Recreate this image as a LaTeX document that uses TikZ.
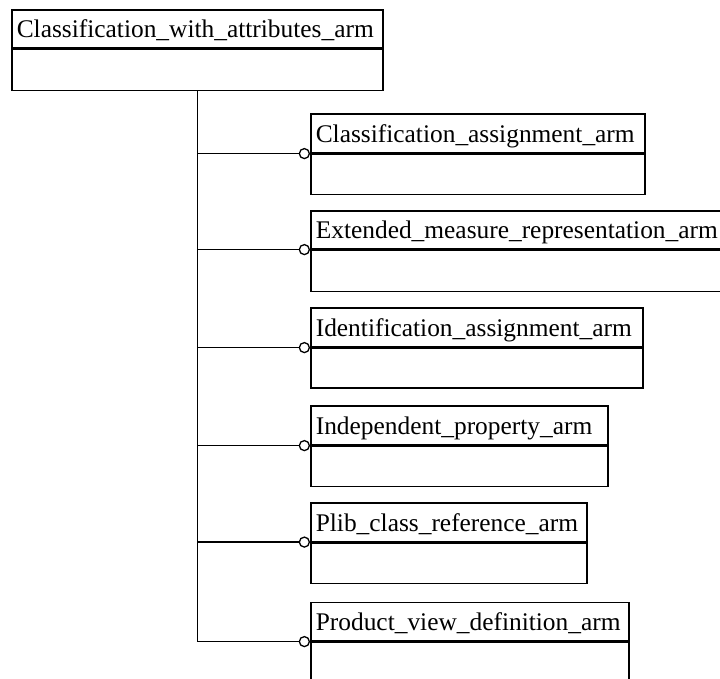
\documentclass[tikz,border=0pt]{standalone}
\usepackage{fontspec}
\setmainfont{Liberation Serif}
\begin{document}
\begin{tikzpicture}[x=1pt,y=-1pt,
  line width=1.6pt,
  hdr/.style={draw, anchor=north west, inner xsep=5pt, inner ysep=0pt,
    align=left, text height=20pt, text depth=2pt,
    font=\fontsize{25.4}{28}\selectfont},
  bodybox/.style={draw, anchor=north west, inner sep=0pt},
  lollipop/.style={circle, draw, fill=white, minimum size=10pt, inner sep=0pt, anchor=east, line width=1.3pt}]
\useasboundingbox (0,0) rectangle (720,679);
\clip (0,0) rectangle (720,679);
% top class
\node[hdr, text width=361pt, minimum height=38pt] (top) at (11,9) {Classification\_with\_attributes\_arm};
\node[bodybox, minimum width=371pt, minimum height=41pt] (topb) at (top.south west) {};
% children
\node[hdr, text width=324pt, minimum height=39pt] (h1) at (310,113) {Classification\_assignment\_arm};
\node[bodybox, minimum width=334pt, minimum height=40pt] (b1) at (h1.south west) {};
\node[hdr, text width=410pt, minimum height=38pt] (h2) at (310,210) {Extended\_measure\_representation\_arm};
\node[bodybox, minimum width=420pt, minimum height=41pt] (b2) at (h2.south west) {};
\node[hdr, text width=322pt, minimum height=39pt] (h3) at (310,307) {Identification\_assignment\_arm};
\node[bodybox, minimum width=332pt, minimum height=39.5pt] (b3) at (h3.south west) {};
\node[hdr, text width=287pt, minimum height=39pt] (h4) at (310,405) {Independent\_property\_arm};
\node[bodybox, minimum width=297pt, minimum height=40pt] (b4) at (h4.south west) {};
\node[hdr, text width=266pt, minimum height=38.5pt] (h5) at (310,502) {Plib\_class\_reference\_arm};
\node[bodybox, minimum width=276pt, minimum height=40.5pt] (b5) at (h5.south west) {};
\node[hdr, text width=308pt, minimum height=38.5pt] (h6) at (310,601.5) {Product\_view\_definition\_arm};
\node[bodybox, minimum width=318pt, minimum height=45pt] (b6) at (h6.south west) {};
% lollipops
\foreach \i in {1,...,6}{
  \node[lollipop] (c\i) at (h\i.south west) {};
}
\draw (topb.south) -- (topb.south |- c6.west);
\foreach \i in {1,...,6}{
  \draw (topb.south |- c\i.west) -- (c\i.west);
}
\end{tikzpicture}
\end{document}
